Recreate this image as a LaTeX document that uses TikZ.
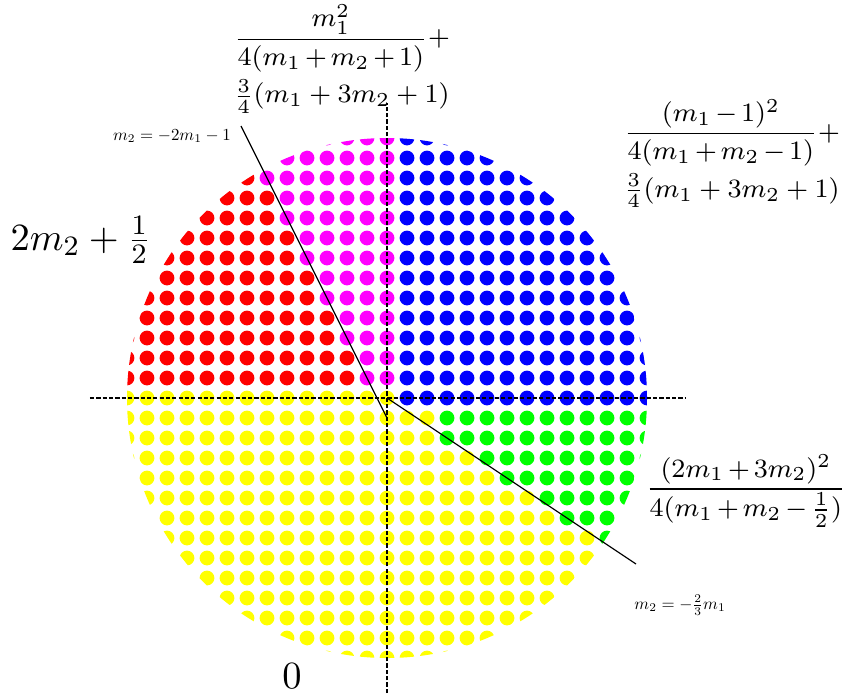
\documentclass[tikz,border=0pt]{standalone}
\usepackage{amsmath}
\usepackage{tikz}
\definecolor{regyellow}{RGB}{255,255,0}
\definecolor{regmagenta}{RGB}{255,0,255}
\definecolor{regred}{RGB}{255,0,0}
\definecolor{regblue}{RGB}{0,0,255}
\definecolor{reggreen}{RGB}{0,255,0}
\begin{document}
\begin{tikzpicture}[
    x=0.2cm, y=0.2cm,
    axisline/.style={line width=0.3pt, dash pattern=on 1.2pt off 0.6pt},
    boundline/.style={line width=0.35pt},
    formula/.style={inner sep=0pt, font=\footnotesize, scale=0.94, transform shape, align=left},
    bigformula/.style={inner sep=0pt, font=\fontsize{11}{13}\selectfont},
    linelabel/.style={inner sep=0pt, scale=0.48, transform shape},
]
\useasboundingbox (-19.35,-14.9) rectangle (22.75,19.9);

% lattice points in the disc, coloured by region
\begin{scope}
\clip (0,0) circle (13);
\foreach \i in {-13,...,13}{
  \foreach \j in {-13,...,13}{
    \pgfmathtruncatemacro{\reg}{(\j>0) ? ((\i>0) ? 3 : ((2*(\i)+(\j)+1>=0) ? 1 : 2)) : ((\i>0) ? ((\j==0) ? 3 : (((\i>=3) && (2*(\i)+3*(\j)>=0)) ? 4 : 0)) : 0)}
    \ifcase\reg\relax \def\dotcol{regyellow}\or\def\dotcol{regmagenta}\or\def\dotcol{regred}\or\def\dotcol{regblue}\or\def\dotcol{reggreen}\fi
    \fill[\dotcol] (\i,\j) circle (0.37);
  }
}
\end{scope}

% axes
\coordinate (xl) at (-14.85,0);
\coordinate (xr) at (14.9,0);
\coordinate (yb) at (0,-14.75);
\coordinate (yt) at (0,14.75);
\draw[axisline] (xl) -- (xr);
\draw[axisline] (yb) -- (yt);

% region boundaries
\coordinate (a1) at (0,-1);
\coordinate (a2) at (-7.3,13.6);
\coordinate (o) at (0,0);
\coordinate (b2) at (12.45,-8.3);
\draw[boundline] (a1) -- (a2);
\draw[boundline] (o) -- (b2);

\node[bigformula, anchor=west] (redlbl) at (-18.85,7.9) {$2m_2+\frac{1}{2}$};
\node[bigformula] (yellowlbl) at (-4.75,-13.9) {$0$};
\node[formula, anchor=north west] (magentalbl) at (-7.7,19.7) {$\medmuskip=2.5mu\displaystyle\frac{m_1^2}{4(m_1+m_2+1)}+$\\[1.2pt]$\frac{3}{4}(m_1+3m_2+1)$};
\node[formula, anchor=north west] (bluelbl) at (11.8,14.95) {$\medmuskip=2.5mu\displaystyle\frac{(m_1-1)^2}{4(m_1+m_2-1)}+$\\[1.2pt]$\frac{3}{4}(m_1+3m_2+1)$};
\node[formula, anchor=west] (greenlbl) at (12.9,-4.65) {$\medmuskip=2.5mu\displaystyle\frac{(2m_1+3m_2)^2}{4(m_1+m_2-\frac{1}{2})}$};
\node[linelabel] (lbla) at (-10.75,13.1) {$m_2=-2m_1-1$};
\node[linelabel] (lblb) at (14.65,-10.35) {$m_2=-\frac{2}{3}m_1$};
\end{tikzpicture}
\end{document}
